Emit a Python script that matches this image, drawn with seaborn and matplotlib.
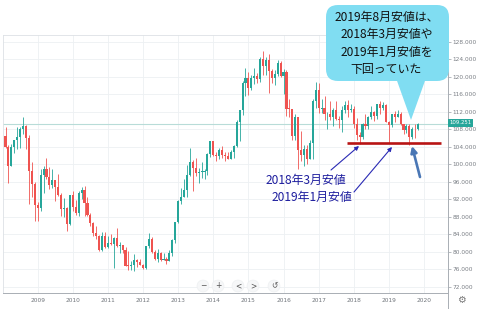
import numpy as np
import pandas as pd
import matplotlib
matplotlib.use("Agg")
import matplotlib.pyplot as plt
import seaborn as sns
from matplotlib.patches import FancyBboxPatch, Polygon, FancyArrowPatch, Circle, Rectangle

# ---------------- data (USD/JPY monthly, Feb 2008 - Nov 2019) ----------------
first_month = "2008-02-01"
opens = [
    106.4, 103.9, 99.7, 103.9, 105.5, 106.2, 108.1, 108.8, 106.0, 98.4, 95.5,
    90.6, 89.9, 97.6, 98.9, 97.0, 95.3, 96.4, 94.7, 93.0, 89.7, 90.0, 86.4,
    93.0, 90.3, 88.9, 93.5, 94.0, 91.2, 88.4, 86.5, 84.2, 83.5, 80.4, 83.7,
    81.1, 82.0, 81.8, 83.1, 81.2, 81.5, 80.5, 76.8, 76.7, 77.0, 78.0, 77.6,
    76.9, 76.2, 81.2, 82.9, 80.0, 78.3, 79.8, 78.1, 78.4, 77.9, 79.8, 82.6,
    86.7, 91.7, 92.5, 94.2, 97.5, 100.4, 99.1, 97.9, 98.2, 98.3, 98.4, 102.4,
    105.3, 102.0, 101.8, 103.2, 102.2, 101.8, 101.3, 102.8, 104.1, 109.7, 112.3, 118.6,
    119.8, 117.5, 119.6, 120.1, 119.4, 124.1, 122.4, 123.9, 121.2, 119.8, 120.6, 123.1,
    120.2, 121.1, 112.7, 112.6, 106.4, 110.7, 103.2, 102.1, 103.4, 101.3, 104.8, 114.5,
    116.9, 112.7, 112.8, 111.4, 111.5, 110.8, 112.4, 110.3, 110.0, 112.5, 113.6, 112.5,
    112.7, 109.2, 106.7, 106.3, 109.3, 108.8, 110.7, 111.9, 111.0, 113.7, 112.9, 113.5,
    109.7, 108.9, 111.4, 110.9, 111.4, 109.3, 107.8, 108.8, 106.3, 108.1, 108.0,
]
highs = [
    108.6, 104.4, 104.6, 105.5, 108.6, 108.5, 110.7, 109.0, 106.6, 100.5, 96.0,
    91.3, 98.9, 99.6, 101.4, 99.3, 98.9, 96.5, 97.8, 93.5, 92.2, 90.3, 93.0,
    93.8, 91.8, 93.8, 94.7, 95.0, 92.4, 88.9, 86.9, 85.9, 83.9, 84.4, 84.5,
    83.7, 84.1, 83.3, 85.5, 82.2, 81.6, 81.0, 80.2, 77.9, 79.5, 78.3, 78.3,
    77.2, 81.2, 84.2, 83.3, 80.4, 80.6, 79.9, 79.6, 78.9, 80.3, 82.8, 86.8,
    91.8, 94.5, 96.7, 99.9, 103.7, 100.9, 101.5, 99.1, 100.6, 99.0, 102.6, 105.4,
    105.4, 102.8, 103.8, 104.1, 102.8, 102.8, 103.2, 104.5, 110.1, 112.5, 119.0, 121.9,
    121.0, 120.5, 122.0, 120.8, 124.5, 125.9, 124.6, 125.3, 121.7, 121.5, 123.8, 123.7,
    121.7, 121.5, 114.9, 112.7, 111.4, 110.9, 107.5, 104.3, 104.3, 105.5, 114.8, 118.7,
    118.6, 115.0, 115.5, 111.9, 114.4, 112.9, 114.5, 111.05, 113.3, 114.5, 114.7, 113.75,
    113.4, 110.5, 107.3, 109.5, 111.4, 111.0, 113.2, 112.1, 113.7, 114.55, 114.2, 113.8,
    109.9, 111.5, 112.1, 112.4, 112.0, 109.3, 109.3, 109.3, 108.5, 109.3, 109.4,
]
lows = [
    103.8, 95.7, 99.6, 102.6, 103.5, 103.8, 107.0, 103.5, 90.9, 92.5, 87.1,
    87.1, 89.3, 93.5, 96.6, 94.4, 94.5, 91.7, 92.8, 88.2, 88.0, 84.8, 86.2,
    89.4, 88.3, 88.2, 92.0, 88.1, 88.1, 85.9, 83.6, 82.9, 80.1, 80.2, 80.9,
    80.9, 81.5, 76.3, 81.1, 79.6, 79.7, 76.7, 75.9, 75.9, 75.6, 76.6, 76.9,
    76.0, 76.1, 80.9, 79.8, 78.0, 77.7, 77.9, 78.0, 77.1, 77.8, 79.1, 82.1,
    86.5, 90.9, 92.5, 92.6, 97.3, 93.8, 97.3, 95.8, 96.9, 96.6, 97.6, 101.6,
    101.8, 100.8, 101.2, 101.4, 100.8, 101.1, 101.1, 101.5, 104.0, 105.2, 111.3, 115.6,
    115.9, 116.9, 118.3, 118.5, 118.9, 120.4, 120.4, 116.2, 118.6, 118.1, 120.2, 119.9,
    116.0, 111.0, 110.7, 105.6, 105.5, 99.0, 100.7, 99.5, 100.1, 101.2, 101.2, 112.9,
    111.6, 111.6, 110.1, 108.1, 110.2, 108.8, 110.2, 108.3, 107.3, 111.7, 110.8, 111.9,
    108.3, 105.55, 104.6, 105.7, 108.1, 108.1, 110.3, 109.8, 110.4, 111.4, 112.3, 109.6,
    104.8, 108.5, 109.7, 110.8, 109.0, 106.8, 107.2, 104.45, 105.7, 105.9, 107.9,
]
closes = [
    103.9, 99.7, 103.9, 105.5, 106.2, 108.1, 108.8, 106.0, 98.4, 95.5, 90.6,
    89.9, 97.6, 98.9, 97.0, 95.3, 96.4, 94.7, 93.0, 89.7, 90.0, 86.4, 93.0,
    90.3, 88.9, 93.5, 94.0, 91.2, 88.4, 86.5, 84.2, 83.5, 80.4, 83.7, 81.1,
    82.0, 81.8, 83.1, 81.2, 81.5, 80.5, 76.8, 76.7, 77.0, 78.0, 77.6, 76.9,
    76.2, 81.2, 82.9, 80.0, 78.3, 79.8, 78.1, 78.4, 77.9, 79.8, 82.6, 86.7,
    91.7, 92.5, 94.2, 97.5, 100.4, 99.1, 97.9, 98.2, 98.3, 98.4, 102.4, 105.3,
    102.0, 101.8, 103.2, 102.2, 101.8, 101.3, 102.8, 104.1, 109.7, 112.3, 118.6, 119.8,
    117.5, 119.6, 120.1, 119.4, 124.1, 122.4, 123.9, 121.2, 119.8, 120.6, 123.1, 120.2,
    121.1, 112.7, 112.6, 106.4, 110.7, 103.2, 102.1, 103.4, 101.3, 104.8, 114.5, 116.9,
    112.8, 112.8, 111.4, 111.5, 110.8, 112.4, 110.3, 110.0, 112.5, 113.6, 112.5, 112.7,
    109.2, 106.7, 106.3, 109.3, 108.8, 110.7, 111.9, 111.0, 113.7, 112.9, 113.5, 109.7,
    108.9, 111.4, 110.9, 111.4, 109.3, 107.8, 108.8, 106.3, 108.1, 108.0, 109.251,
]
last_price = 109.251
price_ticks = list(range(72, 129, 4))
year_labels = [str(y) for y in range(2009, 2021)]

bubble_lines = ["2019年8月安値は、", "2018年3月安値や", "2019年1月安値を", "下回っていた"]
label_2018 = "2018年3月安値"
label_2019 = "2019年1月安値"

# ---------------- figure ----------------
sns.set_theme(style="white")
plt.rcParams['font.family'] = ['Noto Sans CJK JP', 'DejaVu Sans']

W, H = 478, 309
fig = plt.figure(figsize=(W / 100, H / 100), dpi=100)

def rect(x0, y0, x1, y1):
    return [x0 / W, 1 - y1 / H, (x1 - x0) / W, (y1 - y0) / H]

ax = fig.add_axes(rect(3, 35, 448, 293))

df = pd.DataFrame({"open": opens, "high": highs, "low": lows, "close": closes},
                  index=pd.date_range(first_month, periods=len(closes), freq="MS"))
df["m"] = (df.index.year - 2008) * 12 + df.index.month - 1
up = df["close"] >= df["open"]
green, red = "#26a69a", "#ef5350"
cols = np.where(up, green, red)

ax.vlines(df["m"], df["low"], df["high"], colors=cols, lw=0.6, zorder=3)
body_h = np.maximum((df["close"] - df["open"]).abs(), 0.15)
ax.bar(df["m"], body_h, bottom=np.minimum(df["open"], df["close"]), width=0.72,
       color=cols, linewidth=0, zorder=4)

ax.axhline(last_price, color="#b8dcd8", lw=0.8, zorder=2)

ax.set_xlim(0.14, 152.2)
ax.set_ylim(70.56, 129.53)
ax.set_yticks(price_ticks)
ax.set_yticklabels([f"{v:.3f}" for v in price_ticks])
ax.set_xticks(list(range(12, 12 * (len(year_labels) + 1), 12)))
ax.set_xticklabels(year_labels)
ax.grid(True, color="#edf0f3", lw=0.6)
ax.set_axisbelow(True)
ax.yaxis.tick_right()
ax.tick_params(axis="y", right=True, left=False, length=2.2, width=0.5, color="#9aa0a6",
               labelsize=4.2, labelcolor="#7a7f85", pad=1.2)
ax.tick_params(axis="x", bottom=True, length=0, labelsize=4.2, labelcolor="#6f747a", pad=3.5)
for lab in ax.get_xticklabels() + ax.get_yticklabels():
    lab.set_family("DejaVu Sans")
for s in ["left", "top"]:
    ax.spines[s].set_color("#dde1e5")
    ax.spines[s].set_linewidth(0.6)
for s in ["right", "bottom"]:
    ax.spines[s].set_color("#a9aeb4")
    ax.spines[s].set_linewidth(0.7)

# ---------------- overlay (pixel coordinates) ----------------
oax = fig.add_axes([0, 0, 1, 1])
oax.set_xlim(0, W)
oax.set_ylim(H, 0)
oax.axis("off")
oax.patch.set_alpha(0)

# current price label
oax.add_patch(Rectangle((448, 119.3), 25, 7.4, fc=green, ec="none"))
oax.text(460.5, 123, f"{last_price:.3f}", ha="center", va="center", fontsize=3.9,
         color="white", family="DejaVu Sans")

# divider + gear
oax.plot([448, 448], [293, 309], color="#a9aeb4", lw=0.7)
oax.text(461, 300, "⚙", ha="center", va="center", fontsize=7, color="#777",
         family="DejaVu Sans")

# nav buttons
for bx, sym in zip([203, 218, 238, 253, 274], ["−", "+", "<", ">", "↺"]):
    oax.add_patch(Circle((bx, 286), 6, fc="#f6f7f8", ec="#eceef0", lw=0.4))
    oax.text(bx, 286, sym, ha="center", va="center", fontsize=5.5, color="#555",
             family="DejaVu Sans")

# support line
oax.plot([346.7, 441], [143, 143], color="#b81414", lw=1.9, solid_capstyle="butt")

# speech bubble
bub = "#80ddf2"
oax.add_patch(FancyBboxPatch((326, 5), 123, 76,
                             boxstyle="round,pad=0,rounding_size=12", fc=bub, ec="none"))
oax.add_patch(Polygon([(396, 78), (426, 78), (411, 120)], closed=True, fc=bub, ec="none"))
for i, t in enumerate(bubble_lines):
    oax.text(386.5, 17 + i * 17.5, t, ha="center", va="center", fontsize=8.6, color="#111111")

# blue labels
blue = "#1d1d9e"
oax.text(305.5, 180, label_2018, ha="center", va="center", fontsize=8.6, color=blue)
oax.text(311.5, 197, label_2019, ha="center", va="center", fontsize=8.6, color=blue)

for (x0, y0), (x1, y1) in [((331, 170), (359, 146)), ((354, 192), (392, 147))]:
    oax.add_patch(FancyArrowPatch((x0, y0), (x1, y1), arrowstyle="-|>", mutation_scale=6,
                                  lw=0.8, color="#2a2ab4", shrinkA=0, shrinkB=0))
oax.add_patch(FancyArrowPatch((420, 177), (412, 146), arrowstyle="-|>", mutation_scale=9,
                              lw=1.9, color="#4a77b5", shrinkA=0, shrinkB=0))

fig.savefig("out.png", dpi=100)
